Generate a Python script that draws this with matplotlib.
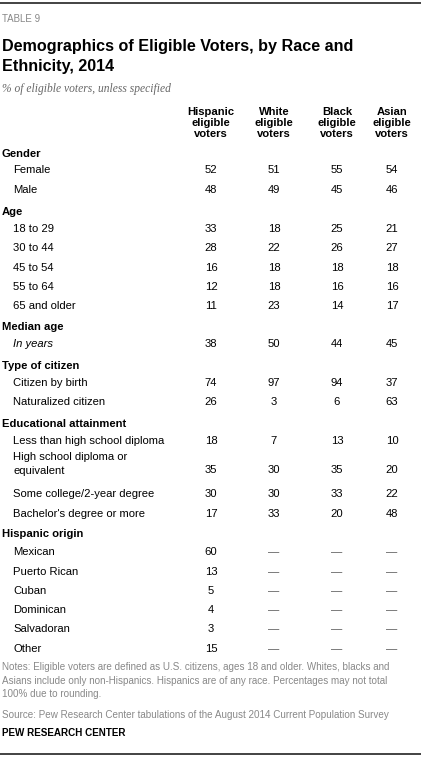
import matplotlib
matplotlib.use("Agg")
import matplotlib.pyplot as plt

W, H = 421, 759

columns = ["Hispanic\neligible\nvoters", "White\neligible\nvoters",
           "Black\neligible\nvoters", "Asian\neligible\nvoters"]

sections = ["Gender", "Age", "Median age", "Type of citizen",
            "Educational attainment", "Hispanic origin"]

gender_rows = ["Female", "Male"]
gender_vals = [[52, 51, 55, 54], [48, 49, 45, 46]]

age_rows = ["18 to 29", "30 to 44", "45 to 54", "55 to 64", "65 and older"]
age_vals = [[33, 18, 25, 21], [28, 22, 26, 27], [16, 18, 18, 18],
            [12, 18, 16, 16], [11, 23, 14, 17]]

median_rows = ["In years"]
median_vals = [[38, 50, 44, 45]]

citizen_rows = ["Citizen by birth", "Naturalized citizen"]
citizen_vals = [[74, 97, 94, 37], [26, 3, 6, 63]]

edu_rows = ["Less than high school diploma", "High school diploma or\nequivalent",
            "Some college/2-year degree", "Bachelor's degree or more"]
edu_vals = [[18, 7, 13, 10], [35, 30, 35, 20], [30, 30, 33, 22], [17, 33, 20, 48]]

origin_rows = ["Mexican", "Puerto Rican", "Cuban", "Dominican", "Salvadoran", "Other"]
origin_vals = [[60, None, None, None], [13, None, None, None], [5, None, None, None],
               [4, None, None, None], [3, None, None, None], [15, None, None, None]]

# pixel y of section heading, then rows
section_y = [154, 212, 327, 366, 424, 534]
row_y = [[170, 190], [229, 248, 268, 287, 306], [344], [383, 402],
         [441, 470, 494, 514], [552, 572, 591, 610, 629, 649]]
all_rows = [gender_rows, age_rows, median_rows, citizen_rows, edu_rows, origin_rows]
all_vals = [gender_vals, age_vals, median_vals, citizen_vals, edu_vals, origin_vals]

col_x = [211, 274, 337, 392]
BODY = 8.1
NOTE = 7.1

fig = plt.figure(figsize=(W / 100, H / 100), dpi=100)
plt.rcParams['font.family'] = ['Liberation Sans', 'DejaVu Sans']

def t(x, y, s, **kw):
    fig.text(x / W, 1 - y / H, s, va="center", **kw)

def hline(y, lw=1.2):
    fig.add_artist(plt.Line2D([0, 1], [1 - y / H, 1 - y / H], color="#222222", lw=lw))

hline(3)
hline(754)

t(2, 19, "TABLE 9", fontsize=7, color="#888888")
t(2, 47, "Demographics of Eligible Voters, by Race and", fontsize=11.6, fontweight="bold")
t(2, 67, "Ethnicity, 2014", fontsize=11.6, fontweight="bold")
t(2, 89, "% of eligible voters, unless specified", fontsize=8.3,
  style="italic", color="#666666", family="Liberation Serif")

for x, c in zip(col_x, columns):
    t(x, 123, c, fontsize=BODY, fontweight="bold", ha="center", linespacing=1.1)

for sec, sy, rows, ys, vals in zip(sections, section_y, all_rows, row_y, all_vals):
    t(2, sy, sec, fontsize=BODY, fontweight="bold")
    for r, y, v in zip(rows, ys, vals):
        style = "italic" if sec == "Median age" else "normal"
        if "\n" in r:
            t(13, y - 6, r, fontsize=BODY, style=style, linespacing=1.6)
        else:
            t(13, y, r, fontsize=BODY, style=style)
        for x, val in zip(col_x, v):
            if val is None:
                t(x, y, "—", fontsize=BODY, ha="center", color="#555555")
            else:
                t(x, y, str(val), fontsize=BODY, ha="center")

t(2, 667, "Notes: Eligible voters are defined as U.S. citizens, ages 18 and older. Whites, blacks and",
  fontsize=NOTE, color="#888888")
t(2, 681, "Asians include only non-Hispanics. Hispanics are of any race. Percentages may not total",
  fontsize=NOTE, color="#888888")
t(2, 694, "100% due to rounding.", fontsize=NOTE, color="#888888")
t(2, 715, "Source: Pew Research Center tabulations of the August 2014 Current Population Survey",
  fontsize=NOTE, color="#888888")
t(2, 733, "PEW RESEARCH CENTER", fontsize=NOTE, fontweight="bold")

fig.savefig("out.png", dpi=100)
